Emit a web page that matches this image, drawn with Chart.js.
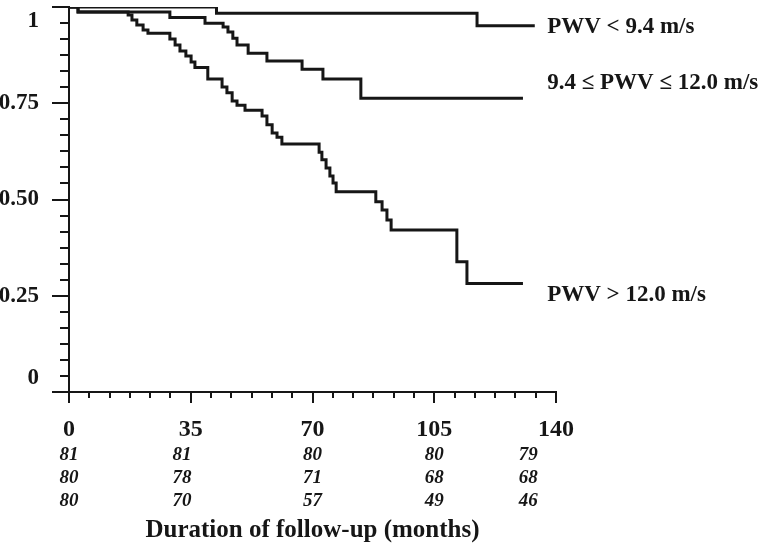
<!DOCTYPE html>
<html>
<head>
<meta charset="utf-8">
<script src="https://cdn.jsdelivr.net/npm/chart.js@4.4.1/dist/chart.umd.min.js"></script>
<style>
  html, body { margin: 0; padding: 0; background: #fff; }
  #wrap { width: 760px; height: 548px; }
</style>
</head>
<body>
<div id="wrap"><canvas id="km" width="760" height="548"></canvas></div>
<script>
// Kaplan-Meier curves: months of follow-up vs cumulative survival
const lowMonths = [0, 42.4, 117.3, 133.9];
const lowSurv = [1, 0.984, 0.951, 0.951];

const midMonths = [0, 2.6, 29.0, 39.1, 44.3, 45.7, 47.1, 48.3, 51.5, 56.9, 67.0, 73.0, 83.9, 130.5];
const midSurv = [1, 0.987, 0.973, 0.958, 0.948, 0.935, 0.919, 0.901, 0.880, 0.860, 0.838, 0.813, 0.763, 0.763];

const highMonths = [0, 2.6, 17.0, 18.1, 19.5, 21.3, 22.7, 29.0, 30.5, 31.9, 33.6, 35.1, 36.2,
  39.9, 44.0, 45.4, 46.9, 48.3, 50.6, 55.5, 56.9, 58.4, 59.8, 61.2, 71.9, 72.7, 73.9, 75.0,
  75.9, 76.8, 88.2, 90.0, 91.4, 92.6, 111.5, 114.4, 130.5];
const highSurv = [1, 0.987, 0.979, 0.966, 0.953, 0.940, 0.932, 0.917, 0.901, 0.886, 0.873, 0.857, 0.843,
  0.813, 0.792, 0.777, 0.756, 0.745, 0.732, 0.717, 0.694, 0.673, 0.662, 0.644, 0.623, 0.603, 0.582, 0.561,
  0.543, 0.520, 0.494, 0.473, 0.447, 0.421, 0.338, 0.282, 0.282];

const groupNames = ['PWV < 9.4 m/s', '9.4 \u2264 PWV \u2264 12.0 m/s', 'PWV > 12.0 m/s'];

const xTickLabels = ['0', '35', '70', '105', '140'];
const yTickLabels = ['0', '0.25', '0.50', '0.75', '1'];

// numbers at risk under the axis
const riskMonths = [0, 32.5, 70, 105, 132];
const riskLow = [81, 81, 80, 80, 79];
const riskMid = [80, 78, 71, 68, 68];
const riskHigh = [80, 70, 57, 49, 46];

const ink = '#161616';
const serif = "'Liberation Serif', 'Times New Roman', serif";

function toPoints(months, surv) {
  return months.map((m, i) => ({ x: m, y: surv[i] }));
}

// minor/major tick marks, curve labels and the numbers at risk
const extras = {
  id: 'extras',
  afterDraw(chart) {
    const { ctx, chartArea: a, scales: { x, y } } = chart;
    ctx.save();
    ctx.strokeStyle = ink;
    ctx.lineWidth = 2;
    ctx.beginPath();
    for (let i = 0; i <= 24; i++) {
      const py = Math.round(y.getPixelForValue(i / 24));
      ctx.moveTo(a.left - (i % 6 === 0 ? 17 : 9), py);
      ctx.lineTo(a.left, py);
    }
    for (let i = 0; i <= 24; i++) {
      const px = Math.round(x.getPixelForValue(i * 35 / 6));
      ctx.moveTo(px, a.bottom);
      ctx.lineTo(px, a.bottom + (i % 6 === 0 ? 11 : 6));
    }
    ctx.stroke();

    // curve names at the right end
    ctx.fillStyle = ink;
    ctx.font = 'bold 23px ' + serif;
    ctx.textAlign = 'left';
    ctx.textBaseline = 'middle';
    const lx = x.getPixelForValue(134) + 12;
    const labelAt = [0.948, 0.803, 0.252];
    groupNames.forEach((name, i) => {
      ctx.fillText(name, lx, y.getPixelForValue(labelAt[i]));
    });

    // numbers at risk
    ctx.font = 'italic bold 19px ' + serif;
    ctx.textAlign = 'center';
    [riskLow, riskMid, riskHigh].forEach((row, r) => {
      row.forEach((n, i) => {
        ctx.fillText(String(n), x.getPixelForValue(riskMonths[i]), a.bottom + 63 + r * 23);
      });
    });
    ctx.restore();
  }
};

const lineStyle = {
  borderColor: ink,
  borderWidth: 3,
  pointRadius: 0,
  stepped: 'before',
  fill: false
};

new Chart(document.getElementById('km'), {
  type: 'line',
  data: {
    datasets: [
      { label: groupNames[0], data: toPoints(lowMonths, lowSurv), ...lineStyle },
      { label: groupNames[1], data: toPoints(midMonths, midSurv), ...lineStyle },
      { label: groupNames[2], data: toPoints(highMonths, highSurv), ...lineStyle }
    ]
  },
  options: {
    responsive: false,
    animation: false,
    layout: { padding: { left: 0, right: 204, top: 7, bottom: 0 } },
    plugins: { legend: { display: false }, tooltip: { enabled: false } },
    scales: {
      x: {
        type: 'linear',
        min: 0,
        max: 140,
        grid: { display: false },
        border: { display: true, color: ink, width: 2 },
        ticks: {
          stepSize: 35,
          autoSkip: false,
          maxRotation: 0,
          padding: 15,
          color: ink,
          font: { family: serif, size: 24, weight: 'bold' },
          callback: (v) => xTickLabels[Math.round(v / 35)]
        },
        title: {
          display: true,
          text: 'Duration of follow-up (months)',
          color: ink,
          font: { family: serif, size: 25, weight: 'bold' },
          padding: { top: 0, bottom: 2 }
        },
        afterFit: (s) => { s.height = 156; s.paddingLeft = 0; s.paddingRight = 0; }
      },
      y: {
        min: 0,
        max: 1,
        grid: { display: false },
        border: { display: true, color: ink, width: 2 },
        ticks: {
          stepSize: 0.25,
          padding: 22,
          color: ink,
          font: { family: serif, size: 23, weight: 'bold' },
          // the end labels sit a little inside the axis, as in the original
          callback: (v) => {
            const i = Math.round(v * 4);
            if (i === 0) return [yTickLabels[i], ''];
            if (i === 4) return ['', yTickLabels[i]];
            return yTickLabels[i];
          }
        },
        afterFit: (s) => { s.width = 69; s.paddingTop = 0; s.paddingBottom = 0; }
      }
    }
  },
  plugins: [extras]
});
</script>
</body>
</html>
